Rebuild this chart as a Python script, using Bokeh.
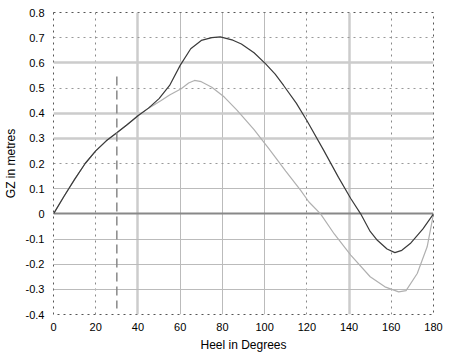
from bokeh.plotting import figure
from bokeh.models import FixedTicker, Grid, Range1d
from bokeh.embed import file_html
from bokeh.resources import INLINE

# Intact GZ curve (dark)
heel_intact = [0, 5, 10, 15, 20, 25, 30, 35, 40, 45, 50, 55, 60, 65, 70, 75, 79, 85, 89, 95,
               100.5, 105, 109, 115, 120, 128, 135, 140.8, 145.5, 150, 153.4, 158, 161.7, 165,
               169, 175, 180]
gz_intact = [0, 0.07, 0.137, 0.2, 0.25, 0.29, 0.322, 0.355, 0.39, 0.42, 0.458, 0.51, 0.59,
             0.656, 0.689, 0.70, 0.703, 0.69, 0.675, 0.64, 0.596, 0.555, 0.51, 0.44, 0.371,
             0.252, 0.145, 0.061, 0, -0.07, -0.105, -0.14, -0.154, -0.145, -0.118, -0.06, 0]

# Damaged GZ curve (light)
heel_damaged = [0, 5, 10, 15, 20, 25, 30, 35, 40, 45, 47, 51, 55, 60.5, 64, 66.8, 70, 75, 80.9,
                87, 95, 102, 110, 117, 121, 126.5, 133, 140.8, 150, 157, 163.5, 167, 172.3,
                177, 180]
gz_damaged = [0, 0.07, 0.137, 0.2, 0.25, 0.29, 0.322, 0.355, 0.39, 0.42, 0.43, 0.45, 0.472,
              0.497, 0.52, 0.53, 0.525, 0.503, 0.464, 0.411, 0.335, 0.259, 0.17, 0.094, 0.047,
              0, -0.08, -0.164, -0.25, -0.29, -0.31, -0.305, -0.237, -0.131, 0]

# Vertical dashed marker at 30 degrees
marker_x = [30, 30]
marker_y = [0.546, -0.376]

x_ticks = [0, 20, 40, 60, 80, 100, 120, 140, 160, 180]
y_ticks = [-0.4, -0.3, -0.2, -0.1, 0, 0.1, 0.2, 0.3, 0.4, 0.5, 0.6, 0.7, 0.8]
y_tick_labels = ["-0.4", "-0.3", "-0.2", "-0.1", "0", "0.1", "0.2", "0.3", "0.4", "0.5",
                 "0.6", "0.7", "0.8"]

FONT = "Liberation Sans"

p = figure(width=450, height=354, output_backend="svg", toolbar_location=None,
           x_range=Range1d(0, 180), y_range=Range1d(-0.4, 0.8),
           min_border_left=52, min_border_right=17, min_border_top=12, min_border_bottom=40)
p.background_fill_color = "white"
p.border_fill_color = "white"
p.outline_line_color = "#555555"
p.outline_line_dash = "dotted"
p.outline_line_width = 1

p.xgrid.visible = False
p.ygrid.visible = False

def add_grid(dim, ticks, color, width, dash):
    g = Grid(dimension=dim, ticker=FixedTicker(ticks=ticks), grid_line_color=color,
             grid_line_width=width, grid_line_dash=dash)
    p.add_layout(g)

add_grid(0, [20, 120, 160], "#888888", 1, "dotted")
add_grid(0, [60, 80, 100], "#bbbbbb", 1, "solid")
add_grid(0, [40, 140], "#cccccc", 2.5, "solid")
add_grid(1, [0.7, 0.5, 0.2], "#999999", 1, "dotted")
add_grid(1, [0.1, -0.1, -0.2, -0.3], "#bbbbbb", 1, "solid")
add_grid(1, [0.6, 0.4, 0.3], "#cccccc", 2.5, "solid")
add_grid(1, [0], "#888888", 2, "solid")

p.line(heel_damaged, gz_damaged, line_color="#b0b0b0", line_width=1.2)
p.line(heel_intact, gz_intact, line_color="#3a3a3a", line_width=1.2)
p.line(marker_x, marker_y, line_color="#888888", line_width=1.5, line_dash="9 5")

p.xaxis.ticker = FixedTicker(ticks=x_ticks)
p.yaxis.ticker = FixedTicker(ticks=y_ticks)
p.yaxis.major_label_overrides = {t: l for t, l in zip(y_ticks, y_tick_labels)}
for ax in (p.xaxis[0], p.yaxis[0]):
    ax.axis_line_color = None
    ax.major_tick_line_color = None
    ax.minor_tick_line_color = None
    ax.major_tick_out = 0
    ax.major_tick_in = 0
    ax.minor_tick_out = 0
    ax.minor_tick_in = 0
    ax.major_label_text_font = FONT
    ax.major_label_text_font_size = "11px"
    ax.major_label_text_color = "black"
    ax.axis_label_text_font = FONT
    ax.axis_label_text_font_size = "12px"
    ax.axis_label_text_font_style = "normal"
    ax.axis_label_text_color = "black"

p.xaxis.axis_label = "Heel in Degrees"
p.yaxis.axis_label = "GZ in metres"
p.xaxis.major_label_standoff = 8
p.yaxis.major_label_standoff = 9
p.xaxis.axis_label_standoff = 4
p.yaxis.axis_label_standoff = 5

open("out.html", "w").write(file_html(p, INLINE))
